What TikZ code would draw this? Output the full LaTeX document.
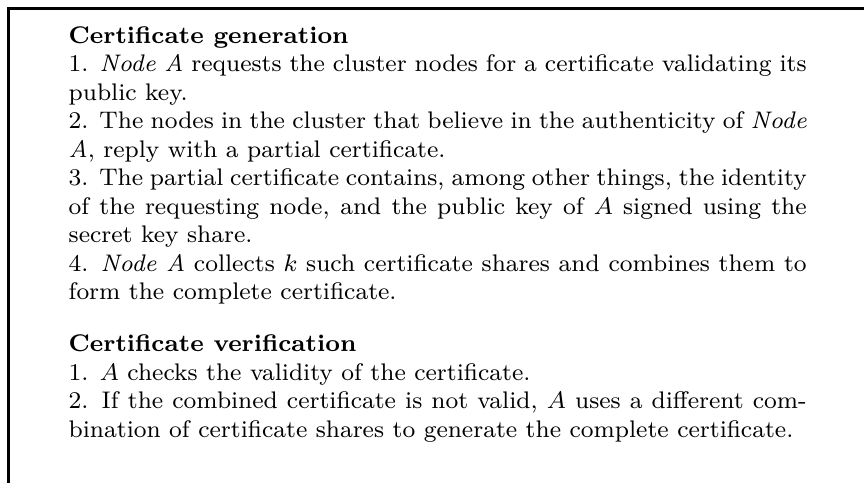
\documentclass[tikz,border=0pt]{standalone}
\usepackage{tikz}
\usetikzlibrary{positioning}
\usepackage{amsmath}
\usepackage{xcolor}
\definecolor{framegray}{RGB}{0,0,0}

\begin{document}
\begin{tikzpicture}
      \useasboundingbox (0,0) rectangle (288pt,-161pt);
      \coordinate (bottomleft) at (2.67pt,-161pt);
      \coordinate (topleft) at (2.67pt,-2.67pt);
      \coordinate (topright) at (288pt,-2.67pt);
      \draw[framegray, line width=1pt] (bottomleft) -- (topleft) -- (topright);
      \node[anchor=north west, inner sep=0pt, text width=246pt, align=justify,
        font=\fontsize{8}{9.5}\selectfont] (certbox) at (22.7pt,-8.6pt) {%
        \setlength{\parindent}{0pt}%
        {\bfseries Certificate generation}\par
        1. \textit{Node A} requests the cluster nodes for a certificate validating its public key.\par
        2. The nodes in the cluster that believe in the authenticity of \textit{Node A}, reply with a partial certificate.\par
        3. The partial certificate contains, among other things, the identity of the requesting node, and the public key of $A$ signed using the secret key share.\par
        4. \textit{Node A} collects $k$ such certificate shares and combines them to form the complete certificate.\par
        \vspace{7.8pt}
        {\bfseries Certificate verification}\par
        1. $A$ checks the validity of the certificate.\par
        2. If the combined certificate is not valid, $A$ uses a different combination of certificate shares to generate the complete certificate.\par};
    \end{tikzpicture}
\end{document}
